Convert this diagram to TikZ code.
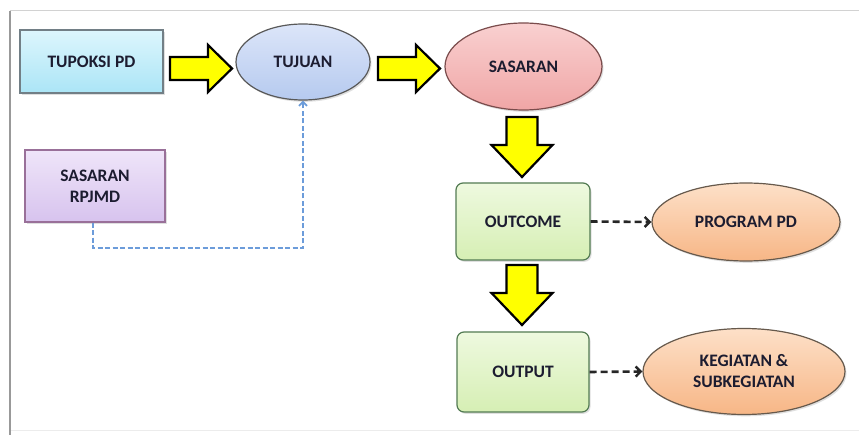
\documentclass[tikz,border=0pt]{standalone}
\usepackage{fontspec}
\setmainfont{Carlito}
\usetikzlibrary{shapes.geometric,arrows.meta,shadows}
\definecolor{txt}{HTML}{1C1C30}
\definecolor{yel}{HTML}{FFFF00}
\definecolor{bluedash}{HTML}{6C9CDA}
\definecolor{cyT}{HTML}{DDF6FD}\definecolor{cyB}{HTML}{ABE5F6}
\definecolor{blT}{HTML}{DCE5F9}\definecolor{blB}{HTML}{B6CAEF}
\definecolor{pkT}{HTML}{F9D0D0}\definecolor{pkB}{HTML}{F0A6A6}
\definecolor{puT}{HTML}{EFE5F9}\definecolor{puB}{HTML}{D7C3EE}
\definecolor{grT}{HTML}{EEF9DF}\definecolor{grB}{HTML}{D6EFB4}
\definecolor{orT}{HTML}{FDE0C8}\definecolor{orB}{HTML}{F7B686}
\tikzset{
  x=1pt, y=-1pt,
  lbl/.style={font=\fontsize{17.5}{19}\selectfont\bfseries, text=txt, align=center, inner sep=0pt},
  sh/.style={drop shadow={shadow xshift=1.5pt, shadow yshift=-1.8pt, opacity=0.25}},
  rbox/.style={lbl, rectangle, draw, line width=1.2pt, sh},
  gbox/.style={lbl, rectangle, rounded corners=7pt, draw=black!55!green!35!gray, line width=1.2pt,
     top color=grT, bottom color=grB, sh},
  ell/.style={lbl, ellipse, draw, line width=1.2pt, sh},
  yarrow/.style={fill=yel, draw=black, line width=2.2pt, line join=miter},
  rarrow/.pic={\draw[yarrow] (-31,-11.5) -- (7,-11.5) -- (7,-23.5) -- (31,0) -- (7,23.5) -- (7,11.5) -- (-31,11.5) -- cycle;},
  darrow/.pic={\draw[yarrow] (-15.5,-30) -- (15.5,-30) -- (15.5,-2) -- (30.5,-2) -- (0,30) -- (-30.5,-2) -- (-15.5,-2) -- cycle;},
  dashar/.style={draw=black!85, line width=2.6pt, dash pattern=on 7pt off 4pt, -{Straight Barb[length=5pt,width=10pt,line width=2.4pt]}},
  bdash/.style={draw=bluedash, line width=2.4pt, dash pattern=on 5pt off 2.5pt, -{Straight Barb[length=4pt,width=8pt,line width=1.8pt]}}
}
\begin{document}
\begin{tikzpicture}
\useasboundingbox (0,0) rectangle (859,435);
\fill[white] (0,0) rectangle (859,435);
% frame
\draw[gray!35, line width=1pt] (10,11) -- (859,11);
\draw[gray!15, line width=1pt] (10,430) -- (859,430);
\draw[gray!80, line width=2pt] (10,11) -- (10,435);

\node[rbox, draw=black!60!cyan!40!gray, top color=cyT, bottom color=cyB, minimum width=143pt, minimum height=63pt] (tup) at (91.5,61.5) {TUPOKSI PD};
\node[rbox, draw=violet!40!gray!80, top color=puT, bottom color=puB, minimum width=140pt, minimum height=72pt] (rp) at (95,186) {SASARAN\\[2pt]RPJMD};
\node[ell, draw=black!65, top color=blT, bottom color=blB, minimum width=134pt, minimum height=76pt] (tuj) at (303,62) {TUJUAN};
\node[ell, draw=black!55!red!40!gray, top color=pkT, bottom color=pkB, minimum width=157pt, minimum height=87pt] (sas) at (523.5,66.5) {SASARAN};
\node[gbox, minimum width=134pt, minimum height=77pt] (outc) at (523,221.5) {OUTCOME};
\node[gbox, minimum width=132pt, minimum height=80pt] (outp) at (523,372) {OUTPUT};
\node[ell, draw=black!60!brown!50!gray, top color=orT, bottom color=orB, minimum width=188pt, minimum height=78pt] (prog) at (746,222) {PROGRAM PD};
\node[ell, draw=black!60!brown!50!gray, top color=orT, bottom color=orB, minimum width=202pt, minimum height=86pt] (keg) at (744,371.5) {KEGIATAN \&\\[2pt]SUBKEGIATAN};

% yellow block arrows
\pic at (201,68.5) {rarrow};
\pic at (409,68.5) {rarrow};
\pic at (522,147) {darrow};
\pic at (522,295) {darrow};

% dashed connectors
\draw[dashar] (outc.east) -- (prog.west);
\draw[dashar] (outp.east) -- (keg.west);

\coordinate (c1) at (93,248);
\coordinate (c2) at (303,248);
\draw[bdash] (rp.south -| c1) -- (c1) -- (c2) -- (tuj.south);
\end{tikzpicture}
\end{document}
